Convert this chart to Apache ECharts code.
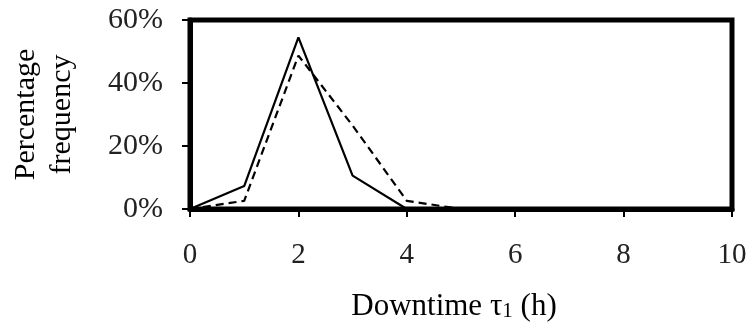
<!DOCTYPE html>
<html>
<head>
<meta charset="utf-8">
<script src="https://cdn.jsdelivr.net/npm/echarts@6/dist/echarts.min.js"></script>
<style>
  html, body { margin: 0; padding: 0; background: #fff; }
  #chart { width: 751px; height: 327px; }
</style>
</head>
<body>
<div id="chart"></div>
<script>
// downtime (h) and percentage frequency of the two curves
const hours = [0, 1, 2, 3, 4, 5, 6, 7, 8, 9, 10];
const solidFreq = [0, 7.3, 54.5, 10.6, 0, 0, 0, 0, 0, 0, 0];
const dashedFreq = [0, 2.6, 48.7, 26.5, 2.6, 0, 0, 0, 0, 0, 0];
const yTicks = [0, 20, 40, 60];

const font = 'Liberation Serif';

const pairs = (ys) => hours.map((h, i) => [h, ys[i]]);

const option = {
  animation: false,
  grid: {
    left: 189, right: 19, top: 20, bottom: 117,
    show: true, borderColor: '#000', borderWidth: 5, backgroundColor: 'transparent',
  },
  xAxis: {
    type: 'value',
    min: 0, max: 10, interval: 2,
    name: 'Downtime {t|τ}{s|1} (h)',
    nameLocation: 'middle',
    nameGap: 82,
    nameTextStyle: {
      fontFamily: font, fontSize: 31, color: '#000', padding: [0, 14, 0, 0],
      rich: {
        t: { fontFamily: font, fontSize: 31, color: '#000' },
        s: { fontFamily: font, fontSize: 21, color: '#000', verticalAlign: 'bottom', padding: [10, 0, 0, 0] },
      },
    },
    axisLine: { show: true, lineStyle: { color: '#000', width: 5 } },
    axisTick: { show: true, inside: false, length: 8, lineStyle: { color: '#000', width: 2 } },
    axisLabel: { fontFamily: font, fontSize: 29, color: '#222', margin: 32 },
    splitLine: { show: false },
  },
  yAxis: {
    type: 'value',
    min: 0, max: 60, interval: 20,
    name: 'Percentage\nfrequency',
    nameLocation: 'middle',
    nameRotate: 90,
    nameGap: 110,
    nameTextStyle: { fontFamily: font, fontSize: 30, color: '#000', lineHeight: 36 },
    axisLine: { show: true, lineStyle: { color: '#000', width: 5 } },
    axisTick: { show: true, inside: false, length: 8, lineStyle: { color: '#000', width: 2 } },
    axisLabel: {
      fontFamily: font, fontSize: 30, color: '#222', margin: 27,
      formatter: (v) => (yTicks.includes(v) ? v + '%' : ''),
    },
    splitLine: { show: false },
  },
  series: [
    {
      name: 'solid',
      type: 'line',
      data: pairs(solidFreq),
      showSymbol: false,
      lineStyle: { color: '#000', width: 2.2, type: 'solid' },
      z: 3,
    },
    {
      name: 'dashed',
      type: 'line',
      data: pairs(dashedFreq),
      showSymbol: false,
      lineStyle: { color: '#000', width: 2.2, type: [8, 5] },
      z: 2,
    },
  ],
};

const myChart = echarts.init(document.getElementById('chart'), null, { renderer: 'canvas' });
myChart.setOption(option);
</script>
</body>
</html>
